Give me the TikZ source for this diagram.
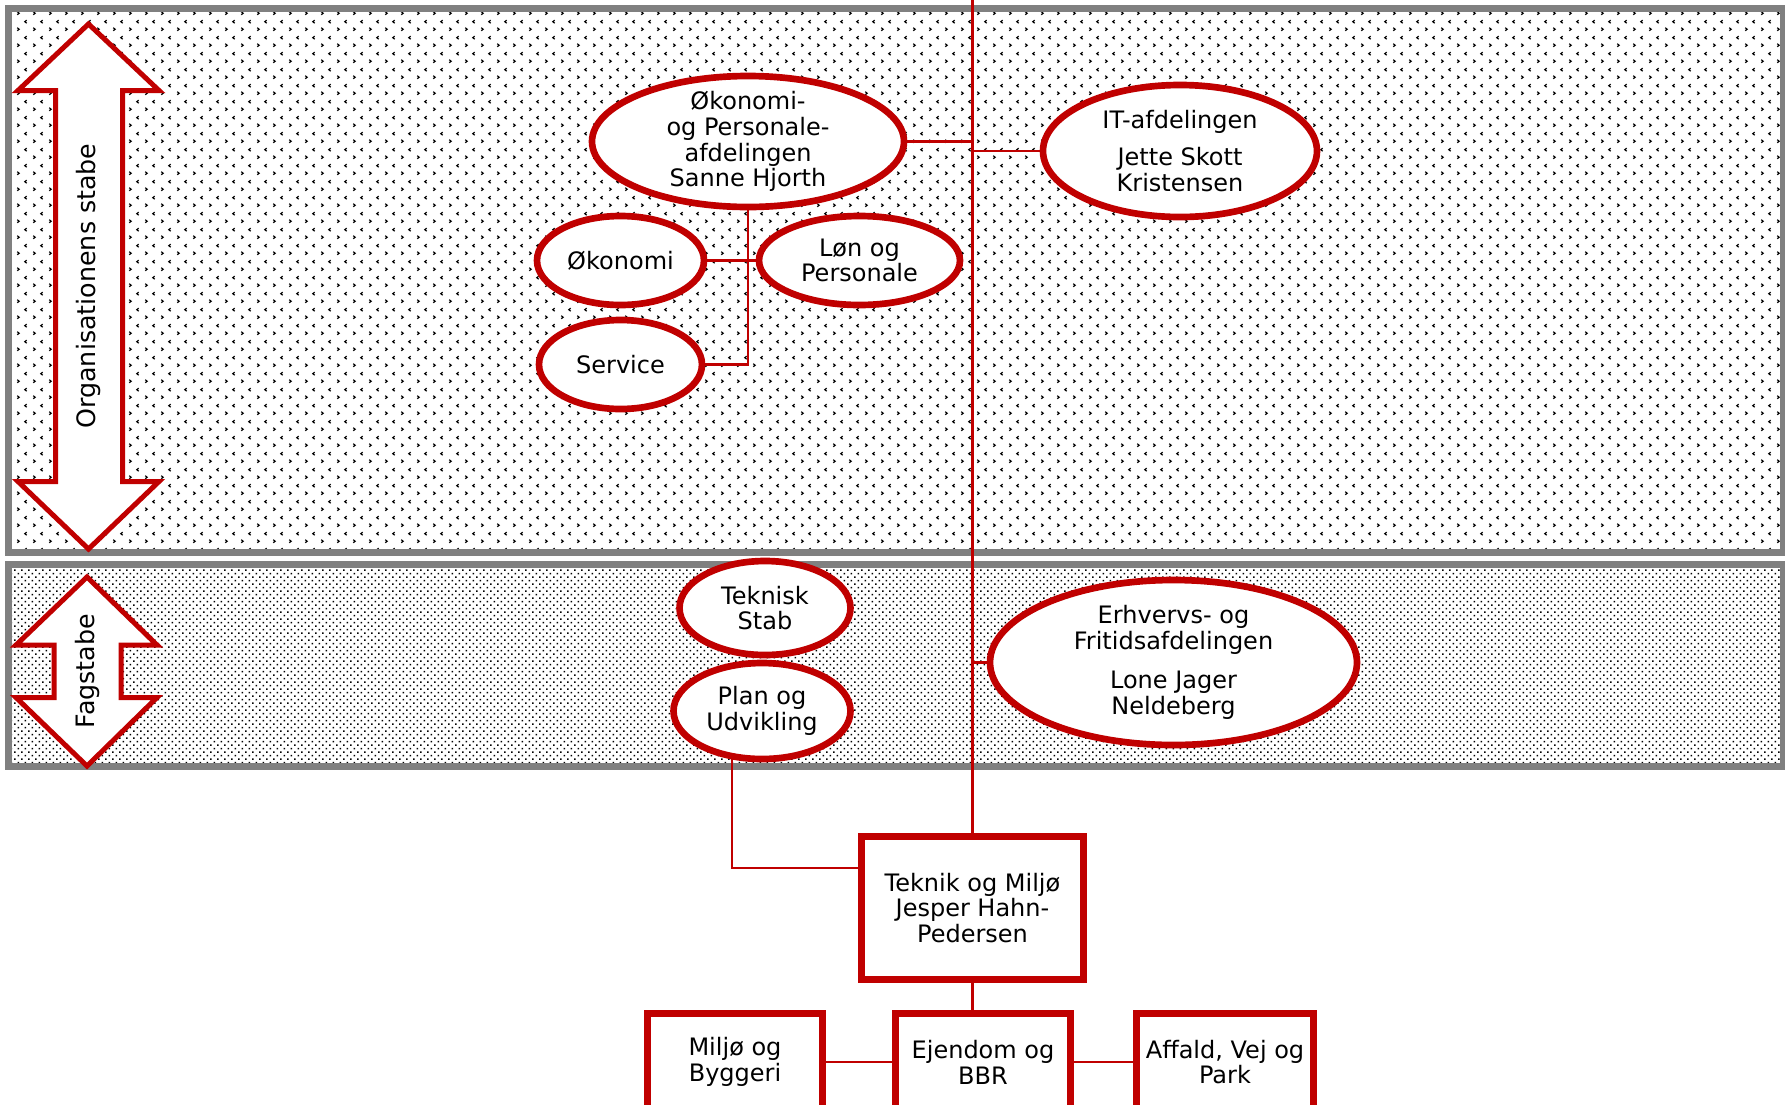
\documentclass[tikz,border=0pt]{standalone}
\usepackage{fontspec}
\setmainfont{DejaVu Sans}
\usetikzlibrary{patterns,shapes.geometric}
\tikzset{every picture/.style={line width=0.75pt}}

\definecolor{orgred}{HTML}{C00000}
\definecolor{bandgray}{HTML}{808080}
\newcommand{\lblfont}{\fontsize{18}{19.3}\selectfont}
\newcommand{\sidefont}{\fontsize{19}{20}\selectfont}

% staff band textures
\pgfdeclarepatternformonly{chevrondots}{\pgfqpoint{0pt}{0pt}}{\pgfqpoint{12pt}{12pt}}{\pgfqpoint{12pt}{12pt}}{%
  \pgfsetlinewidth{0.95pt}
  \pgfpathmoveto{\pgfqpoint{1pt}{1pt}}\pgfpathlineto{\pgfqpoint{2.5pt}{2.2pt}}\pgfpathlineto{\pgfqpoint{1pt}{3.4pt}}
  \pgfpathmoveto{\pgfqpoint{8.5pt}{7pt}}\pgfpathlineto{\pgfqpoint{7pt}{8.2pt}}\pgfpathlineto{\pgfqpoint{8.5pt}{9.4pt}}
  \pgfusepath{stroke}}
\pgfdeclarepatternformonly{finedots}{\pgfqpoint{0pt}{0pt}}{\pgfqpoint{5.5pt}{5.5pt}}{\pgfqpoint{5.5pt}{5.5pt}}{%
  \pgfpathrectangle{\pgfqpoint{0.2pt}{0.2pt}}{\pgfqpoint{1.2pt}{1.2pt}}
  \pgfpathrectangle{\pgfqpoint{2.95pt}{2.95pt}}{\pgfqpoint{1.2pt}{1.2pt}}
  \pgfusepath{fill}}

\tikzset{
  band/.style={draw=bandgray, line width=5.25pt},
  unit/.style={ellipse, draw=orgred, fill=white, line width=5pt, inner sep=0pt},
  unitbox/.style={rectangle, draw=orgred, fill=white, line width=5.25pt, inner sep=0pt, align=center, font=\lblfont},
  link/.style={draw=orgred, line width=1.6pt},
  bigarrow/.style={draw=orgred, fill=white, line width=3.75pt, line join=miter},
}

\begin{document}
\begin{tikzpicture}[x=0.75pt,y=0.75pt,yscale=-1,xscale=1]
\useasboundingbox (0,0) rectangle (1785,1104);
\clip (0,0) rectangle (1785,1104);

%Bands
\draw[band, pattern=chevrondots] (8.5,8.5) rectangle (1783,552.5);
\draw[band, pattern=finedots] (8.5,564) rectangle (1783,766.5);

%Side arrows
\draw[bigarrow] (88.5,24) -- (159,90.5) -- (122.5,90.5) -- (122.5,481.5) -- (159,481.5) -- (88.5,549)
  -- (18,481.5) -- (55.5,481.5) -- (55.5,90.5) -- (18,90.5) -- cycle;
\draw[bigarrow] (87,577) -- (157,645) -- (121,645) -- (121,697.5) -- (157,697.5) -- (87,766)
  -- (16,697.5) -- (54,697.5) -- (54,645) -- (16,645) -- cycle;
% Text Node
\node[rotate=90, font=\sidefont, inner sep=0.75pt] (orgtxt) at (89,286) {Organisationens stabe};
% Text Node
\node[rotate=90, font=\sidefont, inner sep=0.75pt] (fagtxt) at (88,671) {Fagstabe};

%Units
\node[unit, minimum width=234pt, minimum height=98.25pt,
  label={[align=center,font=\lblfont]center:{Økonomi-\\og Personale-\\afdelingen\\Sanne Hjorth}}] (oep) at (748,141.5) {};
\node[unit, minimum width=205.5pt, minimum height=99pt,
  label={[align=center,font=\lblfont]center:{IT-afdelingen\\[8.5pt]Jette Skott\\Kristensen}}] (it) at (1180,151) {};
\node[unit, minimum width=125.25pt, minimum height=66.75pt,
  label={[font=\lblfont]center:Økonomi}] (okon) at (620.5,260.5) {};
\node[unit, minimum width=150.75pt, minimum height=66.75pt,
  label={[align=center,font=\lblfont]center:{Løn og\\Personale}}] (lon) at (859.5,260.5) {};
\node[unit, minimum width=122.25pt, minimum height=66.75pt,
  label={[font=\lblfont]center:Service}] (service) at (620.5,364.5) {};
\node[unit, minimum width=128.25pt, minimum height=70.5pt,
  label={[align=center,font=\lblfont]center:{Teknisk\\Stab}}] (stab) at (765,608) {};
\node[unit, minimum width=132.75pt, minimum height=72pt,
  label={[align=center,font=\lblfont]center:{Plan og\\Udvikling}}] (plan) at (762,711) {};
\node[unit, minimum width=275.25pt, minimum height=123.75pt,
  label={[align=center,font=\lblfont]center:{Erhvervs- og\\Fritidsafdelingen\\[10pt]Lone Jager\\Neldeberg}}] (erh) at (1173.5,662.5) {};

%Boxes
\node[unitbox, minimum width=166.5pt, minimum height=107.25pt] (tm) at (972.5,908) {Teknik og Miljø\\Jesper Hahn-\\Pedersen};
\node[unitbox, minimum width=131.25pt, minimum height=72.75pt] (miljo) at (735,1062) {Miljø og\\Byggeri};
\node[unitbox, minimum width=131.25pt, minimum height=72.75pt] (ejendom) at (983,1062) {Ejendom og\\BBR};
\node[unitbox, minimum width=132.75pt, minimum height=72.75pt] (affald) at (1225,1062) {Affald, Vej og\\Park};

%Straight Lines
\coordinate (topedge) at (973,-4);
\draw[link] (tm.north |- topedge) -- (tm.north);
\draw[link] (oep.east) -- (oep.east -| tm.north);
\draw[link] (it.west) -- (it.west -| tm.north);
\draw[link] (erh.west) -- (erh.west -| tm.north);
\draw[link] (oep.south) |- (service.east);
\draw[link] (okon.east) -- (lon.west);
\draw[link] (plan.238) |- ([yshift=-30pt]tm.west);
\draw[link] (tm.south) -- (tm.south |- ejendom.north);
\draw[link] (miljo.east) -- (ejendom.west);
\draw[link] (ejendom.east) -- (affald.west);

\end{tikzpicture}
\end{document}
